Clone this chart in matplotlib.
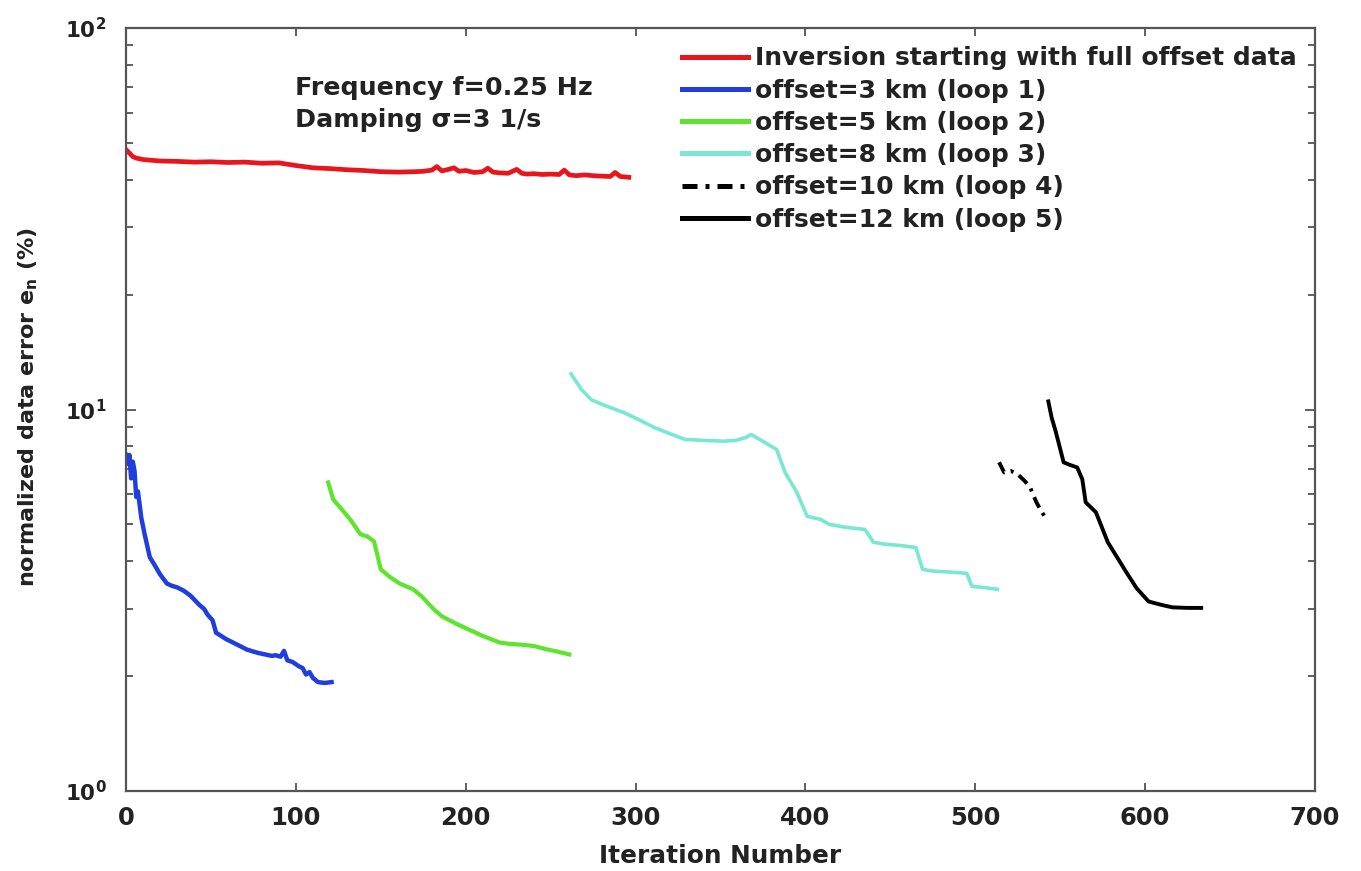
import numpy as np
import matplotlib as mpl
mpl.use('Agg')
import matplotlib.pyplot as plt
from matplotlib.ticker import FixedLocator, NullFormatter

plt.rcParams['font.family'] = ['DejaVu Sans']
plt.rcParams['font.weight'] = 'bold'
plt.rcParams['mathtext.fontset'] = 'dejavusans'

# full offset inversion (red)
it_full = [0, 2, 4, 6, 10, 15, 20, 30, 40, 50, 60, 70, 80, 90, 100, 110, 120, 130,
           140, 150, 160, 170, 175, 180, 183, 186, 190, 193, 196, 200, 205, 210, 213,
           216, 220, 225, 230, 233, 236, 240, 245, 250, 255, 258, 261, 265, 270, 275,
           280, 285, 288, 291, 296]
e_full = [48.0, 47.0, 46.0, 45.6, 45.2, 45.0, 44.8, 44.7, 44.5, 44.6, 44.4, 44.5, 44.2,
          44.3, 43.6, 43.0, 42.8, 42.5, 42.3, 42.0, 41.9, 42.0, 42.1, 42.4, 43.3, 42.2,
          42.6, 43.0, 42.1, 42.3, 41.8, 42.0, 42.9, 41.9, 41.7, 41.6, 42.6, 41.6, 41.4,
          41.5, 41.3, 41.4, 41.3, 42.4, 41.2, 41.0, 41.2, 41.0, 40.9, 40.8, 41.8, 40.8, 40.6]

# loop 1, offset 3 km (blue)
it1 = [0, 1, 2, 3, 4, 5, 6, 7, 9, 11, 14, 17, 20, 24, 27, 30, 34, 38, 43, 46, 48, 51,
       53, 56, 59, 63, 67, 71, 75, 78, 82, 86, 88, 91, 93, 95, 98, 102, 104, 106, 108,
       110, 113, 117, 121]
e1 = [7.6, 7.2, 7.6, 6.6, 7.3, 6.9, 5.9, 6.1, 5.2, 4.7, 4.1, 3.9, 3.7, 3.5, 3.45, 3.42,
      3.35, 3.25, 3.08, 3.0, 2.9, 2.8, 2.6, 2.55, 2.5, 2.45, 2.4, 2.35, 2.32, 2.3, 2.28,
      2.26, 2.27, 2.25, 2.33, 2.2, 2.18, 2.12, 2.1, 2.02, 2.05, 1.98, 1.93, 1.92, 1.93]

# loop 2, offset 5 km (green)
it2 = [119, 122, 126, 132, 138, 142, 146, 150, 155, 161, 169, 174, 181, 186, 194, 201,
       210, 220, 226, 232, 240, 248, 254, 261]
e2 = [6.44, 5.81, 5.54, 5.15, 4.71, 4.65, 4.51, 3.81, 3.65, 3.5, 3.38, 3.24, 3.0, 2.87,
      2.75, 2.66, 2.55, 2.45, 2.43, 2.42, 2.4, 2.35, 2.32, 2.28]

# loop 3, offset 8 km (aquamarine)
it3 = [262, 268, 274, 283, 293, 302, 311, 320, 329, 340, 352, 359, 365, 368, 373, 383,
       388, 395, 401, 409, 414, 424, 435, 440, 446, 456, 465, 469, 475, 485, 495, 498,
       504, 513]
e3 = [12.4, 11.3, 10.6, 10.2, 9.82, 9.4, 8.97, 8.65, 8.35, 8.3, 8.26, 8.3, 8.45, 8.6,
      8.35, 7.86, 6.84, 6.06, 5.25, 5.15, 5.0, 4.91, 4.85, 4.49, 4.44, 4.4, 4.35, 3.81,
      3.77, 3.75, 3.72, 3.44, 3.42, 3.38]

# loop 4, offset 10 km (black dash-dot)
it4 = [514, 517, 521, 525, 529, 532, 536, 539, 542]
e4 = [7.27, 6.84, 6.9, 6.76, 6.5, 6.29, 5.71, 5.4, 5.15]

# loop 5, offset 12 km (black)
it5 = [543, 545, 547, 549, 552, 556, 560, 563, 565, 571, 578, 589, 595, 602, 609, 616,
       625, 633]
e5 = [10.5, 9.5, 8.87, 8.2, 7.27, 7.15, 7.05, 6.56, 5.71, 5.38, 4.49, 3.74, 3.4, 3.14,
      3.08, 3.03, 3.02, 3.02]

labels = ['Inversion starting with full offset data', 'offset=3 km (loop 1)',
          'offset=5 km (loop 2)', 'offset=8 km (loop 3)', 'offset=10 km (loop 4)',
          'offset=12 km (loop 5)']

fig = plt.figure(figsize=(13.61, 8.71), dpi=100)
ax = fig.add_axes([0.0926, 0.0918, 0.8736, 0.8761])

ax.plot(it_full, e_full, color='#e8161c', lw=3.4, label=labels[0])
ax.plot(it1, e1, color='#1f3ee0', lw=3.2, label=labels[1])
ax.plot(it2, e2, color='#5ce52c', lw=3.0, label=labels[2])
ax.plot(it3, e3, color='#78e8d2', lw=2.6, label=labels[3])
ax.plot(it4, e4, color='black', lw=2.8, linestyle=(0, (3, 1.6, 0.8, 1.6)), label=labels[4])
ax.plot(it5, e5, color='black', lw=2.8, label=labels[5])

ax.set_yscale('log')
ax.set_xlim(0, 700)
ax.set_ylim(1, 100)
ax.set_xticks(range(0, 701, 100))
ax.yaxis.set_major_locator(FixedLocator([1, 10, 100]))
ax.set_yticklabels([r'$\mathbf{10^{0}}$', r'$\mathbf{10^{1}}$', r'$\mathbf{10^{2}}$'])
minors = [m * d for d in (1, 10) for m in range(2, 10)]
ax.yaxis.set_minor_locator(FixedLocator(minors))
ax.yaxis.set_minor_formatter(NullFormatter())

ax.tick_params(which='both', direction='in', top=True, right=True, colors='#444444',
               labelcolor='#222222')
ax.tick_params(axis='x', which='major', length=6, width=1.2, labelsize=17.5, pad=11)
ax.tick_params(axis='y', which='major', length=7, width=1.2, labelsize=15.5, pad=14)
ax.tick_params(axis='y', which='minor', length=5, width=1.2)
for s in ax.spines.values():
    s.set_color('#555555')
    s.set_linewidth(1.6)

ax.set_xlabel('Iteration Number', fontsize=17.8, fontweight='bold', color='#222222')
ax.xaxis.set_label_coords(0.5, -0.069)
ax.set_ylabel(r'normalized data error e$_\mathbf{n}$ (%)', fontsize=16, fontweight='bold',
              color='#222222')
ax.yaxis.label.set_va('center')
ax.yaxis.set_label_coords(-0.082, 0.503)

ax.text(0.142, 0.912, 'Frequency f=0.25 Hz', transform=ax.transAxes, fontsize=18.3,
        fontweight='bold', color='#222222', va='baseline')
ax.text(0.142, 0.870, 'Damping σ=3 1/s', transform=ax.transAxes, fontsize=18.3,
        fontweight='bold', color='#222222', va='baseline')

leg = ax.legend(loc='upper left', bbox_to_anchor=(0.4676, 0.976), frameon=False,
                fontsize=18, handlelength=2.63, handletextpad=0.28, labelspacing=0.33,
                borderpad=0, borderaxespad=0, labelcolor='#222222')
for h in leg.get_lines():
    h.set_linewidth(3.6)

plt.savefig('out.png', dpi=100)
plt.close()
